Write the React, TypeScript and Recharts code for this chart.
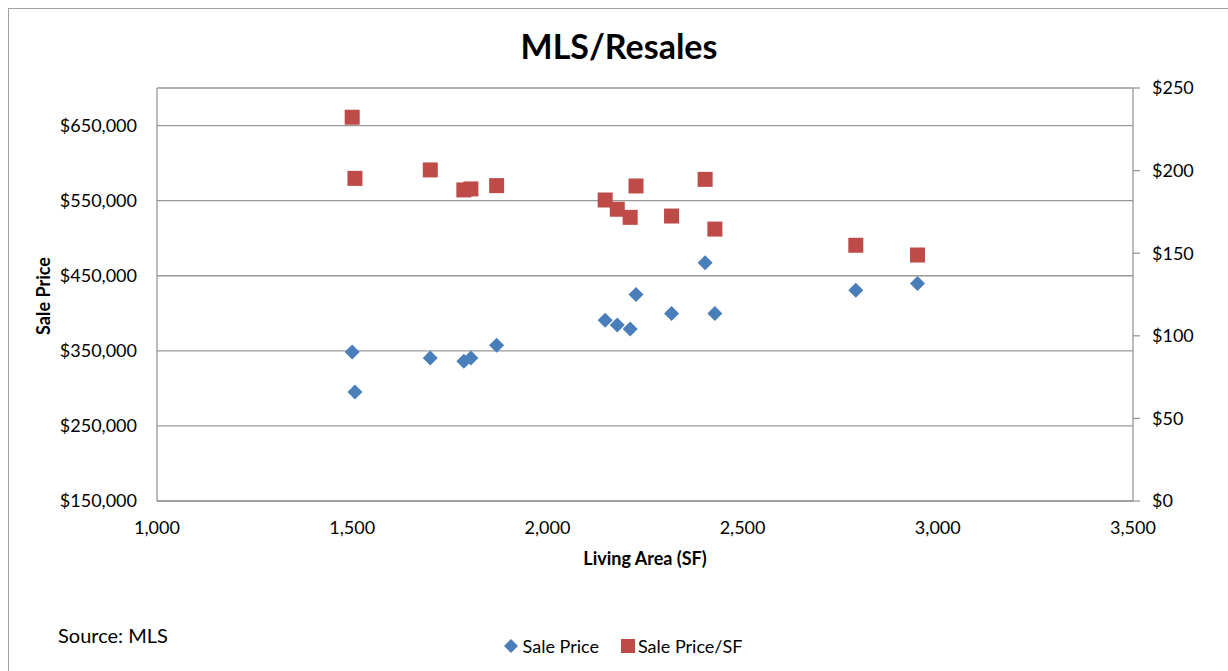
import React from 'react';
import { ScatterChart, Scatter, XAxis, YAxis, CartesianGrid, Legend } from 'recharts';

// Living area (SF) of each resale
const areas = [1500, 1507, 1700, 1786, 1804, 1870, 2148, 2179, 2212, 2227, 2318, 2404, 2429, 2790, 2948];
// Sale price of each resale
const salePrices = [348500, 295000, 340600, 336200, 340600, 357400, 390700, 384500, 379100, 424900, 399600, 467400, 399600, 430600, 439500];
// Sale price per square foot
const pricePerSF = [232.3, 195.3, 200.4, 188.3, 188.9, 190.9, 182.2, 176.6, 171.7, 190.7, 172.5, 194.7, 164.6, 154.8, 148.9];

const xTicks = [1000, 1500, 2000, 2500, 3000, 3500];
const leftTicks = [150000, 250000, 350000, 450000, 550000, 650000];
const rightTicks = [0, 50, 100, 150, 200, 250];

const seriesNames = ['Sale Price', 'Sale Price/SF'];
const BLUE = '#4a7ebb';
const RED = '#be4b48';
const AXIS = '#999999';
const FONT = 'Lato, "Open Sans", sans-serif';

const priceData = areas.map((a, i) => ({ area: a, price: salePrices[i] }));
const psfData = areas.map((a, i) => ({ area: a, psf: pricePerSF[i] }));

const fmtMoney = (v: number) => '$' + v.toLocaleString('en-US');
const fmtNum = (v: number) => v.toLocaleString('en-US');

const Diamond = (p: any) => (
  <path
    d={`M${p.cx},${p.cy - 7.5} L${p.cx + 7.5},${p.cy} L${p.cx},${p.cy + 7.5} L${p.cx - 7.5},${p.cy} Z`}
    fill={BLUE}
  />
);

const Square = (p: any) => <rect x={p.cx - 7.5} y={p.cy - 7.5} width={15} height={15} fill={RED} />;

const renderLegend = () => (
  <div style={{ display: 'flex', justifyContent: 'center', alignItems: 'center', fontFamily: FONT, fontSize: 18, color: '#000' }}>
    <svg width={14} height={14} style={{ marginRight: 5 }}>
      <path d="M7,0 L14,7 L7,14 L0,7 Z" fill={BLUE} />
    </svg>
    <span style={{ marginRight: 22 }}>{seriesNames[0]}</span>
    <svg width={14} height={14} style={{ marginRight: 3 }}>
      <rect x={0} y={0} width={14} height={14} fill={RED} />
    </svg>
    <span>{seriesNames[1]}</span>
  </div>
);

export default function App() {
  const tick = { fill: '#000', fontSize: 18, fontFamily: FONT };
  return (
    <div style={{ position: 'fixed', left: 0, top: 0, width: 1228, height: 671, overflow: 'hidden', background: '#fff', fontFamily: FONT }}>
      <div
        style={{
          position: 'absolute',
          left: 8,
          top: 8,
          width: 1240,
          height: 700,
          borderLeft: '1px solid #a0a0a0',
          borderTop: '1px solid #a0a0a0',
        }}
      >
        <ScatterChart width={1219} height={662} margin={{ top: 79, right: 15, bottom: 130, left: 48 }}>
          <CartesianGrid yAxisId="left" vertical={false} stroke={AXIS} strokeWidth={1.3} />
          <XAxis
            type="number"
            dataKey="area"
            domain={[1000, 3500]}
            ticks={xTicks}
            tickFormatter={fmtNum}
            tick={tick}
            tickLine={false}
            tickSize={0}
            tickMargin={20}
            height={40}
            stroke={AXIS}
            strokeWidth={1.3}
          />
          <YAxis
            yAxisId="left"
            type="number"
            dataKey="price"
            domain={[150000, 700000]}
            ticks={leftTicks}
            tickFormatter={fmtMoney}
            tick={tick}
            tickLine={false}
            tickSize={0}
            tickMargin={20}
            width={100}
            stroke={AXIS}
            strokeWidth={1.3}
          />
          <YAxis
            yAxisId="right"
            orientation="right"
            type="number"
            dataKey="psf"
            domain={[0, 250]}
            ticks={rightTicks}
            tickFormatter={fmtMoney}
            tick={tick}
            tickSize={7}
            tickMargin={12}
            width={80}
            stroke={AXIS}
            strokeWidth={1.3}
          />
          <Scatter name={seriesNames[0]} yAxisId="left" data={priceData} shape={Diamond} isAnimationActive={false} />
          <Scatter name={seriesNames[1]} yAxisId="right" data={psfData} shape={Square} isAnimationActive={false} />
          <Legend
            layout="horizontal"
            verticalAlign="middle"
            align="center"
            content={renderLegend}
            wrapperStyle={{ top: 626, left: 0, width: 1228 }}
          />
        </ScatterChart>
      </div>
      <div style={{ position: 'absolute', left: 0, width: 1238, top: 25, textAlign: 'center', fontWeight: 700, fontSize: 34, color: '#000' }}>
        MLS/Resales
      </div>
      <div
        style={{
          position: 'absolute',
          left: 43,
          top: 296,
          transform: 'translate(-50%, -50%) rotate(-90deg)',
          fontWeight: 700,
          fontSize: 18,
          whiteSpace: 'nowrap',
          color: '#000',
        }}
      >
        Sale Price
      </div>
      <div
        style={{
          position: 'absolute',
          left: 645,
          top: 558,
          transform: 'translate(-50%, -50%)',
          fontWeight: 700,
          fontSize: 18,
          whiteSpace: 'nowrap',
          color: '#000',
        }}
      >
        Living Area (SF)
      </div>
      <div style={{ position: 'absolute', left: 58, top: 623, fontSize: 20, color: '#000' }}>Source: MLS</div>
    </div>
  );
}
